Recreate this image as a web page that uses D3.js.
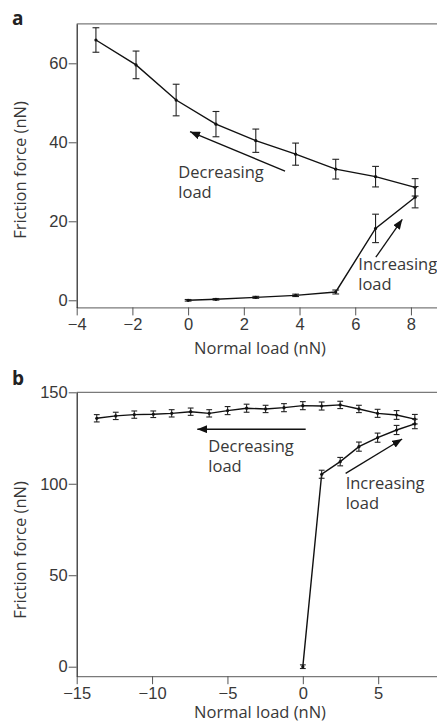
<!DOCTYPE html>
<html>
<head>
<meta charset="utf-8">
<script src="https://cdn.jsdelivr.net/npm/d3@7"></script>
<style>
  body { margin: 0; background: #fff; }
  svg { display: block; font-family: "Open Sans", "Noto Sans", sans-serif; }
  .axis text { font-size: 16.5px; fill: #383838; }
  .lbl { font-size: 16.5px; fill: #383838; }
</style>
</head>
<body>
<div id="chart"></div>
<script>
// panel a : friction vs normal load (nN)
var aDecX = [-3.31, -1.87, -0.43, 1.0, 2.43, 3.86, 5.30, 6.73, 8.15];
var aDecY = [65.9, 59.6, 50.7, 44.6, 40.4, 37.0, 33.2, 31.3, 28.6];
var aDecErr = [3.1, 3.5, 4.0, 3.2, 2.95, 2.8, 2.5, 2.6, 2.2];
var aIncX = [0, 1.0, 2.43, 3.86, 5.30, 6.73, 8.15];
var aIncY = [0, 0.25, 0.75, 1.25, 2.1, 18.2, 26.1];
var aIncErr = [0.2, 0.2, 0.25, 0.3, 0.5, 3.6, 2.7];
var aXTicks = [-4, -2, 0, 2, 4, 6, 8];
var aYTicks = [0, 20, 40, 60];

// panel b
var bDecX = [-13.67, -12.41, -11.18, -9.92, -8.70, -7.44, -6.21, -4.99, -3.73, -2.47, -1.25, 0.0, 1.25, 2.48, 3.72, 4.96, 6.22, 7.43];
var bDecY = [135.8, 137.1, 137.8, 138.0, 138.5, 139.4, 138.5, 140.0, 141.3, 140.9, 141.6, 142.7, 142.5, 143.1, 140.9, 138.5, 137.6, 135.3];
var bDecErr = [2.0, 2.0, 2.0, 1.8, 2.0, 2.0, 2.0, 2.2, 2.2, 2.0, 2.2, 2.2, 2.2, 2.0, 2.0, 2.2, 2.4, 2.6];
var bIncX = [0, 1.25, 2.48, 3.72, 4.96, 6.22, 7.43];
var bIncY = [0, 105.2, 112.1, 120.3, 125.2, 129.4, 132.7];
var bIncErr = [1.0, 2.2, 2.3, 2.5, 2.5, 2.5, 2.6];
var bXTicks = [-15, -10, -5, 0, 5];
var bYTicks = [0, 50, 100, 150];

var W = 437, H = 723;
var svg = d3.select("#chart").append("svg")
    .attr("width", W)
    .attr("height", H);

svg.append("defs").append("marker")
    .attr("id", "head")
    .attr("viewBox", "0 0 10 8")
    .attr("refX", 10).attr("refY", 4)
    .attr("markerWidth", 10).attr("markerHeight", 8)
    .attr("markerUnits", "userSpaceOnUse")
    .attr("orient", "auto")
  .append("path")
    .attr("d", "M0,0L10,4L0,8Z")
    .attr("fill", "#111");

function zip(xs, ys, es) {
  return xs.map(function(d, i) { return {x: d, y: ys[i], e: es[i]}; });
}

function panel(o) {
  var x = d3.scaleLinear().domain(o.xDomain).range([76.7, 438.5]);
  var y = d3.scaleLinear().domain(o.yDomain).range(o.yRange);
  var g = svg.append("g");

  // frame: top line
  g.append("line")
      .attr("x1", x.range()[0]).attr("x2", x.range()[1])
      .attr("y1", y.range()[1]).attr("y2", y.range()[1])
      .attr("stroke", "#7a7a7a").attr("stroke-width", 1.3);

  var ax = g.append("g")
      .attr("class", "axis")
      .attr("transform", "translate(0," + y.range()[0] + ")")
      .call(d3.axisBottom(x).tickValues(o.xTicks).tickSize(8).tickSizeOuter(0).tickPadding(3));
  ax.select(".domain").attr("stroke", "#7a7a7a").attr("stroke-width", 1.3);
  ax.selectAll(".tick line").attr("stroke", "#555");
  ax.selectAll("text").attr("font-family", null);

  var ay = g.append("g")
      .attr("class", "axis")
      .attr("transform", "translate(" + x.range()[0] + ",0)")
      .call(d3.axisLeft(y).tickValues(o.yTicks).tickSize(8).tickSizeOuter(0).tickPadding(1));
  ay.select(".domain").attr("stroke", "#222").attr("stroke-width", 1.2);
  ay.selectAll(".tick line").attr("stroke", "#555");
  ay.selectAll("text").attr("font-family", null);

  var line = d3.line()
      .x(function(d) { return x(d.x); })
      .y(function(d) { return y(d.y); });

  o.series.forEach(function(s) {
    g.append("path")
        .datum(s)
        .attr("d", line)
        .attr("fill", "none")
        .attr("stroke", "#111")
        .attr("stroke-width", 1.4);

    var eb = g.selectAll(null).data(s).enter().append("g");
    eb.append("line")
        .attr("x1", function(d) { return x(d.x); })
        .attr("x2", function(d) { return x(d.x); })
        .attr("y1", function(d) { return y(d.y - d.e); })
        .attr("y2", function(d) { return y(d.y + d.e); })
        .attr("stroke", "#222").attr("stroke-width", 1.1);
    [-1, 1].forEach(function(sg) {
      eb.append("line")
          .attr("x1", function(d) { return x(d.x) - o.cap; })
          .attr("x2", function(d) { return x(d.x) + o.cap; })
          .attr("y1", function(d) { return y(d.y + sg * d.e); })
          .attr("y2", function(d) { return y(d.y + sg * d.e); })
          .attr("stroke", "#222").attr("stroke-width", 1.1);
    });
    eb.append("circle")
        .attr("cx", function(d) { return x(d.x); })
        .attr("cy", function(d) { return y(d.y); })
        .attr("r", 1.6)
        .attr("fill", "#111");
  });

  // arrows + notes
  o.notes.forEach(function(n) {
    g.append("line")
        .attr("x1", x(n.from[0])).attr("y1", y(n.from[1]))
        .attr("x2", x(n.to[0])).attr("y2", y(n.to[1]))
        .attr("stroke", "#111").attr("stroke-width", 1.3)
        .attr("marker-end", "url(#head)");
    var t = g.append("text")
        .attr("class", "lbl")
        .attr("x", x(n.text[0]))
        .attr("y", y(n.text[1]));
    n.words.forEach(function(w, i) {
      t.append("tspan").attr("x", x(n.text[0])).attr("dy", i ? 20 : 0).text(w);
    });
  });

  // axis titles
  g.append("text")
      .attr("class", "lbl")
      .attr("text-anchor", "middle")
      .attr("x", 260)
      .attr("y", y.range()[0] + o.xTitleDy)
      .text("Normal load (nN)");
  g.append("text")
      .attr("class", "lbl")
      .attr("text-anchor", "middle")
      .attr("transform", "translate(26," + o.yTitleMid + ") rotate(-90)")
      .text("Friction force (nN)");

  g.append("text")
      .attr("x", 12)
      .attr("y", o.tag[1])
      .attr("font-size", 19)
      .attr("font-weight", "bold")
      .attr("fill", "#222")
      .text(o.tag[0]);
}

panel({
  xDomain: [-4, 8.99], yDomain: [-1.8, 70], yRange: [307.4, 23.8],
  xTicks: aXTicks, yTicks: aYTicks, cap: 3.4,
  series: [zip(aDecX, aDecY, aDecErr), zip(aIncX, aIncY, aIncErr)],
  notes: [
    {from: [3.48, 32.7], to: [0.07, 42.7], text: [-0.35, 31.0], words: ["Decreasing", "load"]},
    {from: [6.74, 10.9], to: [7.69, 20.5], text: [6.11, 7.7], words: ["Increasing", "load"]}
  ],
  xTitleDy: 47, yTitleMid: 170, tag: ["a", 25]
});

panel({
  xDomain: [-15, 9], yDomain: [-5.2, 150], yRange: [676.2, 392.3],
  xTicks: bXTicks, yTicks: bYTicks, cap: 2.9,
  series: [zip(bDecX, bDecY, bDecErr), zip(bIncX, bIncY, bIncErr)],
  notes: [
    {from: [0.19, 129.8], to: [-7.0, 129.8], text: [-6.27, 117.6], words: ["Decreasing", "load"]},
    {from: [2.84, 105.7], to: [6.59, 124.5], text: [2.84, 97.2], words: ["Increasing", "load"]}
  ],
  xTitleDy: 42, yTitleMid: 550, tag: ["b", 385]
});
</script>
</body>
</html>
